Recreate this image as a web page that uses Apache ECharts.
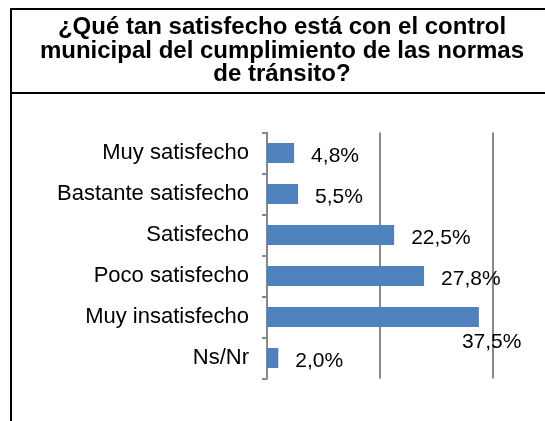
<!DOCTYPE html>
<html>
<head>
<meta charset="utf-8">
<title>Control municipal de las normas de tránsito</title>
<script src="https://cdn.jsdelivr.net/npm/echarts@6/dist/echarts.min.js"></script>
<style>
  html, body { margin: 0; padding: 0; background: #fff; }
  #chart { width: 545px; height: 421px; }
</style>
</head>
<body>
<div id="chart"></div>
<script>
// Survey answers, top to bottom
const categories = [
  'Muy satisfecho',
  'Bastante satisfecho',
  'Satisfecho',
  'Poco satisfecho',
  'Muy insatisfecho',
  'Ns/Nr'
];
// Share of respondents (%)
const values = [4.8, 5.5, 22.5, 27.8, 37.5, 2.0];
// Value axis range and step (gridlines only, no tick text)
const axisMin = 0;
const axisMax = 40;
const axisStep = 20;
// Title, one entry per line
const titleLines = [
  '¿Qué tan satisfecho está con el control',
  'municipal del cumplimiento de las normas',
  'de tránsito?'
];

const FONT = '"Liberation Sans", Arial, sans-serif';
const GRAY = '#888888';

const fmt = v => v.toFixed(1).replace('.', ',') + '%';

// The longest bar carries its label below the bar end
const seriesData = values.map((v, i) => {
  if (i === 4) {
    return { value: v, label: { offset: [-34, 25] } };
  }
  return v;
});

const titleGraphics = titleLines.map((line, i) => ({
  type: 'text',
  x: 282,
  y: 27.5 + i * 23.5,
  silent: true,
  style: {
    text: line,
    font: 'bold 24px ' + FONT,
    fill: '#000',
    align: 'center',
    textAlign: 'center',
    verticalAlign: 'middle',
    textVerticalAlign: 'middle'
  }
}));

const chart = echarts.init(document.getElementById('chart'), null, { renderer: 'canvas' });

chart.setOption({
  backgroundColor: '#ffffff',
  animation: false,
  graphic: [
    // Outer frame
    {
      type: 'rect',
      silent: true,
      shape: { x: 11, y: 9, width: 542, height: 440 },
      style: { fill: 'none', stroke: '#000', lineWidth: 2 }
    },
    // Rule under the title
    {
      type: 'line',
      silent: true,
      shape: { x1: 11, y1: 93, x2: 560, y2: 93 },
      style: { stroke: '#000', lineWidth: 2 }
    }
  ].concat(titleGraphics),
  grid: {
    left: 267,
    right: 52,
    top: 132.5,
    bottom: 42.5,
    containLabel: false
  },
  xAxis: {
    type: 'value',
    min: axisMin,
    max: axisMax,
    interval: axisStep,
    axisLine: { show: false },
    axisTick: { show: false },
    axisLabel: { show: false },
    splitLine: { show: true, lineStyle: { color: GRAY, width: 2 } }
  },
  yAxis: {
    type: 'category',
    data: categories,
    inverse: true,
    axisLine: { show: true, lineStyle: { color: GRAY, width: 2 } },
    axisTick: { show: true, length: 5, lineStyle: { color: GRAY, width: 2 } },
    axisLabel: {
      margin: 18,
      color: '#000',
      fontFamily: FONT,
      fontSize: 22
    },
    splitLine: { show: false }
  },
  series: [{
    type: 'bar',
    data: seriesData,
    barWidth: 20,
    itemStyle: { color: '#4F81BD' },
    label: {
      show: true,
      position: 'right',
      distance: 17,
      offset: [0, 3],
      color: '#000',
      fontFamily: FONT,
      fontSize: 21,
      formatter: p => fmt(p.value)
    }
  }]
});
</script>
</body>
</html>
